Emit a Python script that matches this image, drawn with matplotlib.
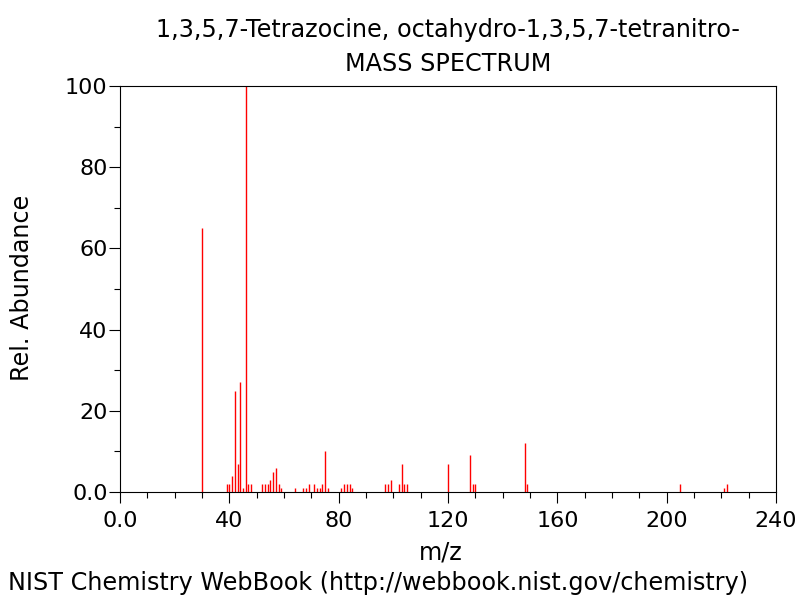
import matplotlib
matplotlib.use("Agg")
import matplotlib.pyplot as plt
from matplotlib.ticker import MultipleLocator

# --- DATA ---
mz = [30, 39, 40, 41, 42, 43, 44, 45, 46, 47, 48,
      52, 53, 54, 55, 56, 57, 58, 59, 64,
      67, 68, 69, 71, 72, 73, 74, 75, 76,
      81, 82, 83, 84, 85, 97, 98, 99,
      102, 103, 104, 105, 120, 128, 129, 130,
      148, 149, 205, 221, 222]
abundance = [65, 2, 2, 4, 25, 7, 27, 1, 100, 2, 2,
             2, 2, 2, 3, 5, 6, 2, 1, 1,
             1, 1, 2, 2, 1, 1, 2, 10, 1,
             1, 2, 2, 2, 1, 2, 2, 3,
             2, 7, 2, 2, 7, 9, 2, 2,
             12, 2, 2, 1, 2]
x_ticks = [0, 40, 80, 120, 160, 200, 240]
x_tick_labels = ["0.0", "40", "80", "120", "160", "200", "240"]
y_ticks = [0, 20, 40, 60, 80, 100]
y_tick_labels = ["0.0", "20", "40", "60", "80", "100"]

title_1 = "1,3,5,7-Tetrazocine, octahydro-1,3,5,7-tetranitro-"
title_2 = "MASS SPECTRUM"
credit = "NIST Chemistry WebBook (http://webbook.nist.gov/chemistry)"

plt.rcParams['font.family'] = ['DejaVu Sans']
FS_TICK = 16
FS_TEXT = 17.2

fig = plt.figure(figsize=(8, 6), dpi=100)
ax = fig.add_axes([120 / 800, 108 / 600, 656 / 800, 406 / 600])

ax.vlines(mz, 0, abundance, colors='#ff0000', linewidth=1.0)

ax.set_xlim(0, 240)
ax.set_ylim(0, 100)
ax.set_xticks(x_ticks)
ax.set_xticklabels(x_tick_labels)
ax.set_yticks(y_ticks)
ax.set_yticklabels(y_tick_labels)
ax.xaxis.set_minor_locator(MultipleLocator(10))
ax.yaxis.set_minor_locator(MultipleLocator(10))
ax.tick_params(axis='both', which='major', direction='out', length=8, width=0.8, labelsize=FS_TICK)
ax.tick_params(axis='both', which='minor', direction='out', length=4.5, width=0.8)
ax.tick_params(axis='x', which='major', pad=6)
ax.tick_params(axis='y', which='major', pad=1)
for s in ax.spines.values():
    s.set_linewidth(0.8)

# --- LABELS ---
fig.text(448 / 800, 1 - 30 / 600, title_1, ha='center', va='center', fontsize=FS_TEXT)
fig.text(448 / 800, 1 - 64 / 600, title_2, ha='center', va='center', fontsize=FS_TEXT)
fig.text(441 / 800, 1 - 553 / 600, "m/z", ha='center', va='center', fontsize=FS_TEXT)
fig.text(22 / 800, 1 - 288 / 600, "Rel. Abundance", ha='center', va='center',
         rotation=90, fontsize=FS_TEXT)
fig.text(8 / 800, 1 - 583 / 600, credit, ha='left', va='center', fontsize=FS_TEXT)

fig.savefig("out.png", dpi=100, facecolor='white')
